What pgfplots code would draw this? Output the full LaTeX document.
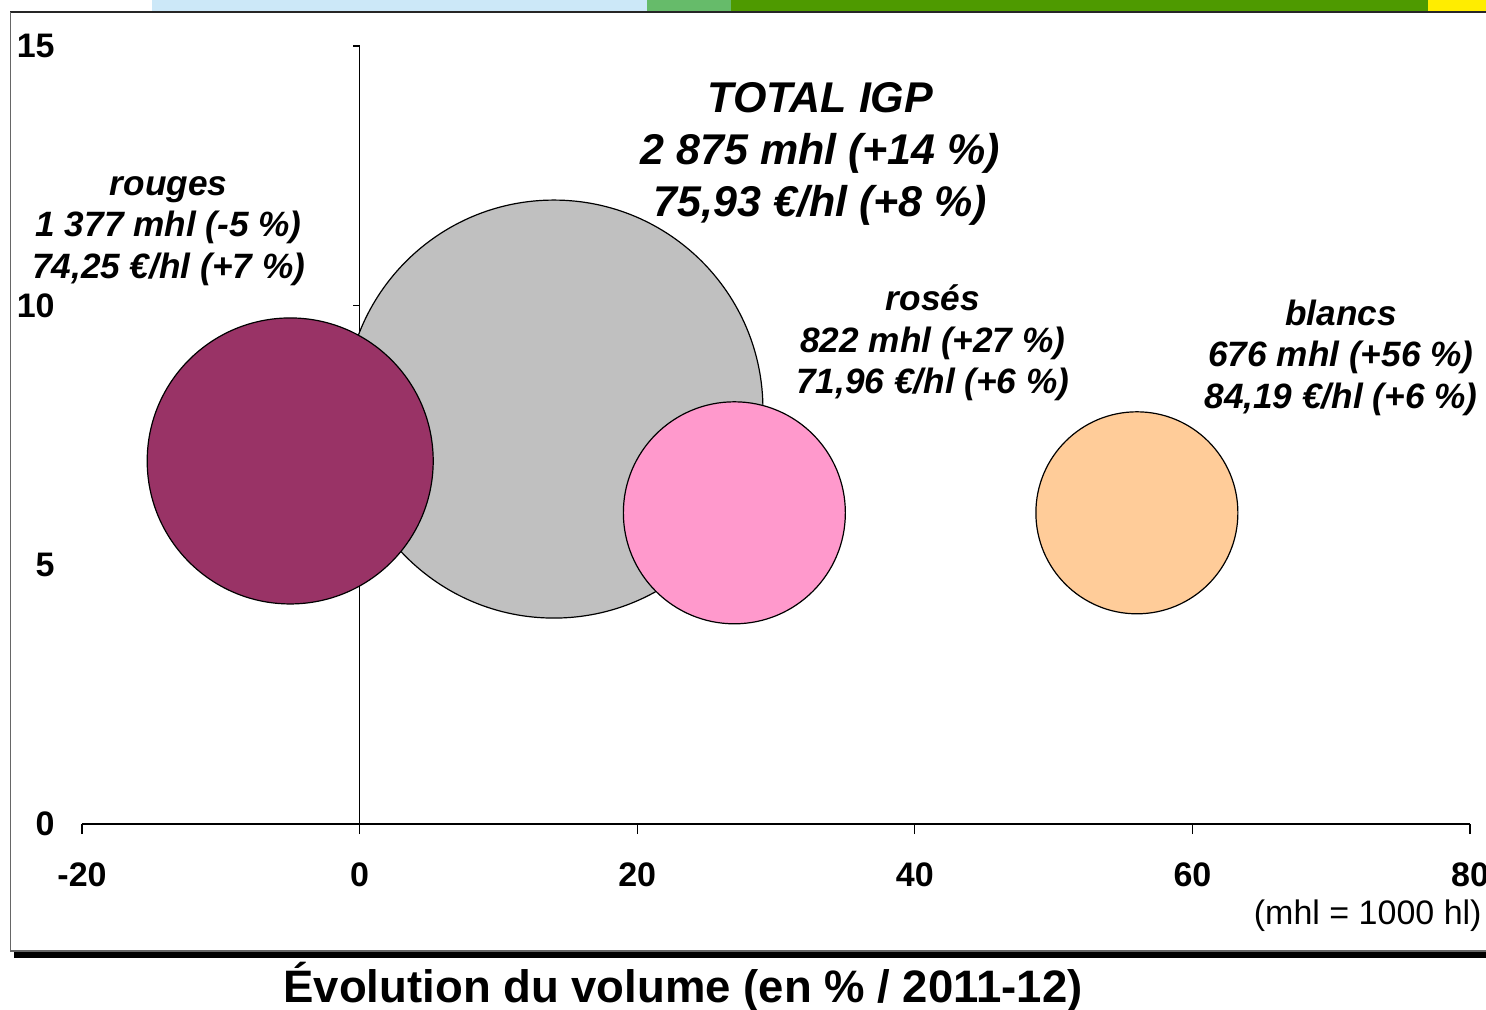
\documentclass[border=0pt]{standalone}
\usepackage{fontspec}
\setmainfont{Liberation Sans}
\usepackage{pgfplots}
\pgfplotsset{compat=1.18}
\definecolor{rouges}{HTML}{993366}
\definecolor{total}{HTML}{C0C0C0}
\definecolor{roses}{HTML}{FF99CC}
\definecolor{blancs}{HTML}{FFCC99}
\definecolor{bandblue}{HTML}{CCE8F8}
\definecolor{bandlgreen}{HTML}{66BB6A}
\definecolor{banddgreen}{HTML}{4E9A00}
\definecolor{bandyellow}{HTML}{FFED00}
\begin{document}
\begin{tikzpicture}
\useasboundingbox (-41pt,-92.5pt) rectangle (702pt,412pt);
% bandeau de couleur en haut
\fill[bandblue] (35pt,406.5pt) rectangle (282.5pt,412pt);
\fill[bandlgreen] (282.5pt,406.5pt) rectangle (324.5pt,412pt);
\fill[banddgreen] (324.5pt,406.5pt) rectangle (673pt,412pt);
\fill[bandyellow] (673pt,406.5pt) rectangle (702pt,412pt);
% cadre
\draw[black!85, line width=1pt] (-35.75pt,406.25pt) -- (702pt,406.25pt);
\draw[black!60, line width=0.7pt] (-35.75pt,406.25pt) -- (-35.75pt,-63.5pt) -- (702pt,-63.5pt);
\fill[black] (-34pt,-64pt) rectangle (702pt,-67pt);
\begin{axis}[
  at={(0pt,0pt)}, anchor=south west,
  scale only axis, width=694pt, height=389pt,
  xmin=-20, xmax=80, ymin=0, ymax=15,
  axis x line=bottom, axis y line=left,
  axis line style={-},
  x axis line style={line width=1pt},
  y axis line style={draw=none},
  xtick={-20,0,20,40,60,80}, ytick={0,5,10,15},
  xtick align=outside, ytick align=inside,
  major tick length=5pt,
  xtick style={black, line width=0.6pt},
  ytick style={draw=none},
  /pgf/number format/assume math mode=true,
  ticklabel style={font=\bfseries\fontsize{17}{17}\selectfont},
  xticklabel style={yshift=-11pt},
  yticklabel style={anchor=east, inner xsep=0pt, xshift=-13.5pt},
  clip=false,
]
% axe vertical en 0
\draw[black, line width=0.6pt] (axis cs:0,0) -- (axis cs:0,15);
\draw[black, line width=0.6pt] (axis cs:0,5) -- ++(-3.5pt,0pt);
\draw[black, line width=0.6pt] (axis cs:0,10) -- ++(-3.5pt,0pt);
\draw[black, line width=0.6pt] (axis cs:0,15) -- ++(-3.5pt,0pt);
% bulles : x = evolution volume, y = evolution prix, rayon ~ sqrt(volume)
\addplot[only marks, mark=*, mark size=104.5pt,
  mark options={fill=total, draw=black, line width=0.6pt}]
  coordinates {(14,8)};
\addplot[only marks, mark=*, mark size=71.5pt,
  mark options={fill=rouges, draw=black, line width=0.6pt}]
  coordinates {(-5,7)};
\addplot[only marks, mark=*, mark size=55.5pt,
  mark options={fill=roses, draw=black, line width=0.6pt}]
  coordinates {(27,6)};
\addplot[only marks, mark=*, mark size=50.5pt,
  mark options={fill=blancs, draw=black, line width=0.6pt}]
  coordinates {(56,6)};
\node[align=center, font=\bfseries\itshape\fontsize{21.5}{26}\selectfont]
  at (axis cs:33.2,12.92) {TOTAL IGP\\2 875 mhl (+14 \%)\\75,93 €/hl (+8 \%)};
\node[align=center, font=\bfseries\itshape\fontsize{17.6}{20.75}\selectfont]
  at (axis cs:-13.76,11.43) {rouges\\1 377 mhl (-5 \%)\\74,25 €/hl (+7 \%)};
\node[align=center, font=\bfseries\itshape\fontsize{17.6}{20.75}\selectfont]
  at (axis cs:41.3,9.27) {rosés\\822 mhl (+27 \%)\\71,96 €/hl (+6 \%)};
\node[align=center, font=\bfseries\itshape\fontsize{17.6}{20.75}\selectfont]
  at (axis cs:70.7,8.99) {blancs\\676 mhl (+56 \%)\\84,19 €/hl (+6 \%)};
\end{axis}
\node[anchor=east, inner sep=0pt, font=\fontsize{17}{17}\selectfont]
  at (700pt,-46pt) {(mhl = 1000 hl)};
\node[font=\bfseries\fontsize{22.75}{22.75}\selectfont]
  at (300.5pt,-81.5pt) {Évolution du volume (en \% / 2011-12)};
\end{tikzpicture}
\end{document}
